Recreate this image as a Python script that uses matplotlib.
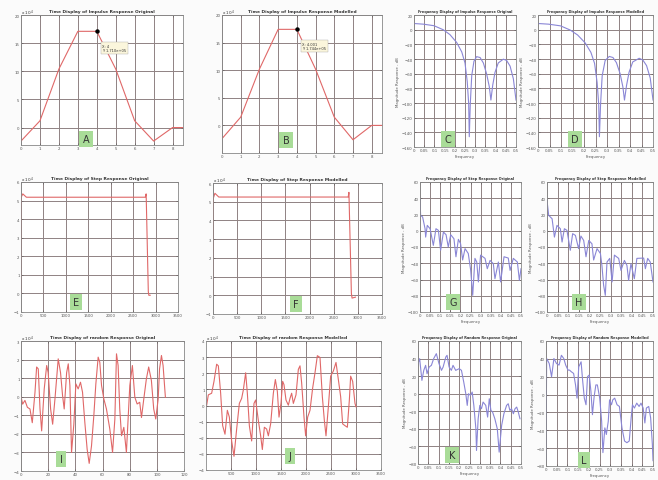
import matplotlib.pyplot as plt

# ---- impulse response (time), values x 10^4 ----
imp_n = [0, 1, 2, 3, 4, 5, 6, 7, 8, 9]
imp_orig = [-2.4, 1.2, 10.4, 17.1, 17.1, 10.4, 1.2, -2.4, 0, 0]
imp_model = [-2.4, 1.5, 10.2, 17.4, 17.4, 10.2, 1.5, -2.6, 0, 0]

# ---- impulse response (frequency), dB ----
c_f = [0, 0.046, 0.098, 0.144, 0.176, 0.209, 0.234, 0.250, 0.261, 0.268, 0.271, 0.276,
       0.283, 0.294, 0.307, 0.324, 0.340, 0.356, 0.369, 0.377, 0.386, 0.397, 0.413,
       0.438, 0.454, 0.471, 0.487, 0.500]
c_db = [8.4, 7.5, 5.4, -0.2, -6.7, -17.4, -30.3, -45.4, -71, -101, -146, -101,
        -62.6, -43, -36.8, -38, -45.4, -60.4, -77.6, -96, -75.5, -58.3, -45.4,
        -40.2, -42, -49.7, -66.9, -96]
d_f = [0, 0.046, 0.098, 0.140, 0.172, 0.205, 0.230, 0.246, 0.257, 0.264, 0.267, 0.272,
       0.279, 0.292, 0.310, 0.326, 0.341, 0.357, 0.369, 0.376, 0.385, 0.396, 0.412,
       0.440, 0.456, 0.472, 0.488, 0.500]
d_db = [8.4, 7.5, 5.2, -0.5, -7.2, -18, -31, -46, -72, -102, -146, -102,
        -63, -42, -36.5, -38, -45, -60, -78, -96, -76, -58, -44,
        -39, -41.5, -49, -66, -96]

# ---- step response (time), values x 10^4 ----
e_n = [0, 8, 40, 120, 2700, 2770, 2790, 2838, 2850, 2880]
e_val = [0, 5.2, 5.36, 5.18, 5.18, 5.18, 5.36, 0.1, -0.1, -0.1]
f_n = [0, 8, 40, 120, 2700, 2800, 2815, 2866, 2880, 2950]
f_val = [0, 5.2, 5.45, 5.25, 5.25, 5.25, 5.5, 0.1, -0.15, -0.1]

# ---- step response (frequency), dB ----
g_f = [0, 0.003, 0.013, 0.025, 0.028, 0.036, 0.050, 0.066, 0.079, 0.091, 0.102,
       0.116, 0.129, 0.140, 0.152, 0.168, 0.178, 0.190, 0.201, 0.211, 0.223, 0.239,
       0.251, 0.261, 0.272, 0.281, 0.289, 0.300, 0.322, 0.333, 0.347, 0.363, 0.371,
       0.388, 0.399, 0.416, 0.437, 0.446, 0.462, 0.482, 0.492, 0.500]
g_db = [39.4, 18.9, 16.9, 2.5, -7.8, 6.6, 2.5, -18, 2.5, 0.5, -24,
        -1.6, -4.9, -20, -4.9, -9.8, -32, -10.6, -16, -36, -22, -28,
        -48.8, -79.5, -34, -38.5, -63, -30, -34, -46.7, -36.5, -40.6, -59,
        -38.5, -63, -32, -33.6, -48.8, -34, -38.5, -61, -46.7]
h_f = [0, 0.008, 0.024, 0.035, 0.047, 0.063, 0.071, 0.082, 0.094, 0.110, 0.121,
       0.134, 0.149, 0.160, 0.173, 0.184, 0.197, 0.212, 0.220, 0.236, 0.252, 0.259,
       0.267, 0.275, 0.283, 0.296, 0.307, 0.318, 0.338, 0.349, 0.365, 0.377, 0.385,
       0.396, 0.412, 0.424, 0.456, 0.464, 0.475, 0.487, 0.500]
h_db = [37.4, 18.9, 14.8, -7.8, 6.6, 2.5, -13.9, 2.5, 0.5, -24, -3.6,
        -5.7, -22, -6.5, -11.9, -32, -11.9, -16, -36, -22, -28, -42.6,
        -67, -79.5, -38.5, -34, -63, -30, -34, -48.8, -36.5, -42.6, -61,
        -40.6, -59, -34, -33.6, -46.7, -34, -38.5, -63]

# ---- random response (time) ----
i_n = [0, 1.2, 2.9, 4.7, 6.6, 8.3, 10.3, 11.5, 12.7, 14, 15.2, 17.1, 18.9, 20, 21.8,
       23.3, 25, 27.4, 29.1, 30.6, 31.8, 33.6, 34.8, 36, 37.2, 38.9, 40.4, 42.1, 43.8,
       45.3, 47, 48.7, 50.2, 51.9, 53.6, 55.1, 56.8, 58, 59.3, 61, 62.9, 65.4, 67.4,
       69.1, 70.3, 71.5, 72.7, 74, 75.7, 77.6, 80.1, 82, 83.8, 85.5, 87.4, 88.7, 90.4,
       92.3, 94, 96, 97.7, 99.2, 101, 102, 103.4, 104.6, 106.3]
i_val = [0.02, -0.4, -0.2, -0.57, -0.66, -1.4, 0.24, 1.6, 1.5, -0.66, -1.84, 0.42,
         1.68, 1.3, -0.66, -1.48, -0.12, 2.04, 1.3, 0.06, -0.66, 1.3, 1.77, 0.6, -3.0,
         -1.48, 0.69, 0.42, 0.78, 0.24, -1.39, -2.83, -3.59, -2.65, -1.03, 0.69, 2.13,
         1.86, 0.6, -0.12, -0.66, -1.75, -3.0, -1.2, 2.31, 1.68, -0.66, -2.1, -1.65,
         -3.0, 0.6, 1.68, -0.03, -0.39, -0.3, -1.12, -0.12, 0.96, 1.6, 0.87, -0.66,
         -1.2, -0.12, 1.5, 2.22, 1.68, -0.03]
j_n = [13, 47, 113, 160, 213, 247, 293, 333, 380, 427, 467, 513, 560, 613, 667, 713,
       747, 793, 827, 867, 913, 960, 993, 1047, 1093, 1127, 1167, 1213, 1247, 1293,
       1347, 1387, 1427, 1460, 1500, 1533, 1560, 1600, 1647, 1680, 1713, 1747, 1800,
       1847, 1880, 1913, 1960, 1993, 2033, 2080, 2133, 2180, 2227, 2280, 2327, 2367,
       2400, 2447, 2493, 2547, 2600, 2647, 2693, 2733, 2780, 2827, 2867, 2893, 2933,
       2980, 3000]
j_val = [0.02, 0.66, 0.76, 1.5, 2.56, 2.46, 0.76, -1.25, -1.78, -0.3, -0.72, -2.2,
         -3.15, -1.46, 0.13, 0.44, 0.97, 2.03, 0.76, -1.25, -2.2, 0.13, 0.34, -0.93,
         -1.88, -2.73, -1.35, -1.46, -1.88, -1.14, 0.76, 1.61, 0.87, -0.72, 0.13, 1.5,
         1.29, 0.34, 0.02, 0.44, 0.76, 0.13, 0.66, 2.24, 2.46, 1.4, -0.72, -1.88, -0.72,
         -0.3, 1.08, 2.03, 3.09, 2.98, 0.55, -0.93, -1.88, -0.08, 1.82, 2.14, 2.67, 1.61,
         0.55, -1.14, -1.25, -1.35, 0.34, 1.82, 1.5, 0.13, -0.08]

# ---- random response (frequency), dB ----
k_f = [0, 0.008, 0.019, 0.028, 0.037, 0.044, 0.054, 0.065, 0.076, 0.089, 0.102, 0.114,
       0.122, 0.135, 0.141, 0.151, 0.162, 0.170, 0.183, 0.200, 0.211, 0.222, 0.232,
       0.239, 0.245, 0.255, 0.263, 0.271, 0.281, 0.284, 0.292, 0.300, 0.308, 0.316,
       0.329, 0.338, 0.346, 0.354, 0.362, 0.373, 0.385, 0.394, 0.406, 0.417, 0.430,
       0.438, 0.446, 0.454, 0.463, 0.471, 0.479, 0.487, 0.495]
k_db = [34.2, 39.9, 15.2, 26.6, 32.3, 22.8, 30.4, 32.3, 39.9, 45.6, 34.2, 26.6, 30.4,
        41.8, 43.7, 30.4, 26.6, 32.3, 26.6, 28.5, 26.6, 13.3, 0, -13.3, 0, -1.9, 1.9,
        -13.3, -40, -64.6, -28.5, -13.3, -17.1, -9.5, -13.3, -26.6, -5.7, -19, -20.9,
        -28.5, -40, -66.5, -36.1, -22.8, -13.3, -11.4, -19, -17.1, -22.8, -17.1, -15.2,
        -20.9, -28.5]
l_f = [0, 0.003, 0.015, 0.026, 0.037, 0.049, 0.061, 0.072, 0.083, 0.092, 0.103, 0.110,
       0.118, 0.129, 0.138, 0.145, 0.153, 0.164, 0.171, 0.179, 0.187, 0.194, 0.202,
       0.210, 0.217, 0.225, 0.233, 0.240, 0.251, 0.260, 0.266, 0.275, 0.282, 0.291,
       0.297, 0.306, 0.312, 0.321, 0.332, 0.343, 0.355, 0.367, 0.378, 0.389, 0.398,
       0.404, 0.413, 0.424, 0.435, 0.444, 0.454, 0.462, 0.469, 0.480, 0.489, 0.497,
       0.500]
l_db = [-74, 40.4, 34.8, 20, 40.4, 34.8, 33, 44, 40.4, 33, 27.4, 27.4, 25.6, 23.7,
        10.8, -4, 31.1, 36.7, 16.3, -4, -11.4, 20, 21.9, 3.4, -22.5, -2.2, 10.8, 10.8,
        -4, -29.9, -65, -37.3, -44.7, -29.9, -5.9, -11.4, -5.9, -4, -11.4, -13.3, -37.3,
        -52, -53.9, -52, -26.2, -11.4, -15.1, -9.6, -13.3, -9.6, -15.1, -31.8, -15.1,
        -13.3, -26.2, -55.8, -74]

RED = '#e06868'
BLUE = '#8a86d6'
GRID = '#8f8283'
W, H = 658, 481


def box(l, r, t, b):
    return [l / W, 1 - b / H, (r - l) / W, (b - t) / H]


def style(ax, title, tsize=3.2):
    ax.set_title(title, fontsize=tsize, fontweight='bold', pad=2, color='#333333')
    ax.grid(True, color=GRID, lw=0.7)
    ax.tick_params(labelsize=2.8, length=1.5, width=0.4, pad=1, direction='in',
                   colors='#555555', top=True, right=True)
    for s in ax.spines.values():
        s.set_color('#888888')
        s.set_linewidth(0.6)
    ax.set_facecolor('white')


def tag(ax, letter, xf, yf):
    fig.text(xf / W, 1 - yf / H, letter, fontsize=7, ha='center', va='center',
             color='#333333',
             bbox=dict(boxstyle='square,pad=0.35', fc='#a9dc98', ec='none'))


def freq_axes(ax, ylim, step):
    ax.set_xlim(0, 0.5)
    ax.set_xticks([0, 0.05, 0.1, 0.15, 0.2, 0.25, 0.3, 0.35, 0.4, 0.45, 0.5])
    ax.set_xticklabels(['0', '0.05', '0.1', '0.15', '0.2', '0.25', '0.3', '0.35',
                        '0.4', '0.45', '0.5'])
    ax.set_ylim(*ylim)
    ax.set_yticks(range(ylim[0], ylim[1] + 1, step))
    ax.set_xlabel('Frequency', fontsize=2.8, labelpad=1, color='#555555')
    ax.set_ylabel('Magnitude Response - dB', fontsize=2.8, labelpad=1, color='#555555')


fig = plt.figure(figsize=(6.58, 4.81), dpi=100)
fig.patch.set_facecolor('#fbfbfb')

# A / B : impulse time
for pos, vals, title, tip, letter, lp in [
        (box(21, 183, 16, 146), imp_orig, 'Time Display of Impulse Response Original',
         'X: 4\nY: 1.710e+05', 'A', (86, 140)),
        (box(222, 382, 16, 154), imp_model, 'Time Display of Impulse Response Modelled',
         'X: 4.001\nY: 1.744e+05', 'B', (286, 141))]:
    ax = fig.add_axes(pos)
    style(ax, title)
    ax.plot(imp_n, vals, color=RED, lw=0.8)
    ax.set_xlim(0, 8.55)
    ax.set_xticks(range(0, 9))
    ax.set_ylim(-3.1 if letter == 'A' else -5, 20)
    ax.set_yticks([0, 5, 10, 15, 20])
    ax.plot([4], [vals[4]], 'o', color='black', ms=2.2)
    ax.annotate(tip, (4, vals[4]), xytext=(4, -9), textcoords='offset points',
                fontsize=2.6, va='top', color='#333333',
                bbox=dict(boxstyle='square,pad=0.4', fc='#fbf6dc', ec='#aaaaaa', lw=0.3))
    ax.text(0.0, 1.01, 'x 10$^4$', transform=ax.transAxes, fontsize=3, color='#333333')
    tag(ax, letter, *lp)

# C / D : impulse frequency
for pos, fx, fy, title, letter, lp in [
        (box(414, 516, 16, 148), c_f, c_db, 'Frequency Display of Impulse Response Original',
         'C', (448, 140)),
        (box(538, 653, 16, 148), d_f, d_db, 'Frequency Display of Impulse Response Modelled',
         'D', (575, 140))]:
    ax = fig.add_axes(pos)
    style(ax, title, 2.5)
    ax.plot(fx, fy, color=BLUE, lw=0.8)
    freq_axes(ax, (-160, 20), 20)
    tag(ax, letter, *lp)

# E / F : step time
for pos, xn, vals, title, letter, lp in [
        (box(21, 178, 183, 313), e_n, e_val, 'Time Display of Step Response Original',
         'E', (76, 303)),
        (box(213, 382, 184, 315), f_n, f_val, 'Time Display of Step Response Modelled',
         'F', (296, 305))]:
    ax = fig.add_axes(pos)
    style(ax, title)
    ax.plot(xn, vals, color=RED, lw=0.8)
    ax.set_xlim(0, 3500)
    ax.set_xticks(range(0, 3501, 500))
    ax.set_ylim(-1, 6)
    ax.set_yticks(range(-1, 7))
    ax.text(0.0, 1.01, 'x 10$^4$', transform=ax.transAxes, fontsize=3, color='#333333')
    tag(ax, letter, *lp)

# G / H : step frequency
for pos, fx, fy, title, letter, lp in [
        (box(420, 521, 183, 313), g_f, g_db, 'Frequency Display of Step Response Original',
         'G', (453, 303)),
        (box(547, 653, 183, 313), h_f, h_db, 'Frequency Display of Step Response Modelled',
         'H', (579, 303))]:
    ax = fig.add_axes(pos)
    style(ax, title, 2.5)
    ax.plot(fx, fy, color=BLUE, lw=0.8)
    freq_axes(ax, (-100, 60), 20)
    tag(ax, letter, *lp)

# I / J : random time
ax = fig.add_axes(box(21, 184, 342, 472))
style(ax, 'Time Display of random Response Original')
ax.plot(i_n, i_val, color=RED, lw=0.8)
ax.set_xlim(0, 120)
ax.set_xticks(range(0, 121, 20))
ax.set_ylim(-4, 3)
ax.set_yticks(range(-4, 4))
ax.text(0.0, 1.01, 'x 10$^4$', transform=ax.transAxes, fontsize=3, color='#333333')
tag(ax, 'I', 61, 460)

ax = fig.add_axes(box(206, 381, 342, 471))
style(ax, 'Time Display of random Response Modelled')
ax.plot(j_n, j_val, color=RED, lw=0.8)
ax.set_xlim(0, 3500)
ax.set_xticks(range(500, 3501, 500))
ax.set_ylim(-4, 4)
ax.set_yticks(range(-4, 5))
ax.text(0.0, 1.01, 'x 10$^4$', transform=ax.transAxes, fontsize=3, color='#333333')
tag(ax, 'J', 290, 457)

# K / L : random frequency
for pos, fx, fy, title, letter, lp in [
        (box(418, 521, 342, 465), k_f, k_db, 'Frequency Display of Random Response Original',
         'K', (452, 456)),
        (box(546, 653, 342, 467), l_f, l_db, 'Frequency Display of Random Response Modelled',
         'L', (584, 461))]:
    ax = fig.add_axes(pos)
    style(ax, title, 2.5)
    ax.plot(fx, fy, color=BLUE, lw=0.8)
    freq_axes(ax, (-80, 60), 20)
    tag(ax, letter, *lp)

fig.savefig('out.png', dpi=100, facecolor=fig.get_facecolor())
